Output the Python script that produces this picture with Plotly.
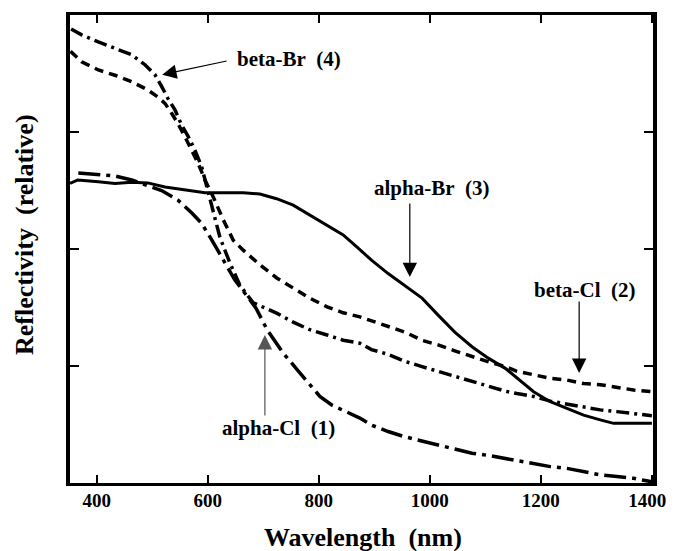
import plotly.graph_objects as go

# ---- data (wavelength in nm, reflectivity in relative units) ----
alpha_br_nm = [352, 366, 403, 433, 463, 492, 523, 553, 595, 634, 664, 694, 724, 754, 784, 814, 844, 868,
               895, 925, 955, 986, 1015, 1045, 1076, 1106, 1136, 1157, 1187, 1217, 1247, 1277, 1307, 1331,
               1367, 1400]
alpha_br = [2.56, 2.59, 2.575, 2.56, 2.57, 2.565, 2.53, 2.51, 2.48, 2.48, 2.48, 2.47, 2.43, 2.375, 2.29,
            2.205, 2.12, 2.02, 1.905, 1.79, 1.69, 1.58, 1.435, 1.29, 1.165, 1.065, 0.98, 0.895, 0.78,
            0.695, 0.64, 0.58, 0.54, 0.51, 0.51, 0.51]

alpha_cl_nm = [367, 402, 433, 463, 492, 517, 546, 571, 589, 607, 649, 687, 707, 736, 761, 784, 802, 824,
               851, 874, 895, 925, 955, 986, 1015, 1045, 1076, 1106, 1136, 1157, 1187, 1217, 1247, 1277,
               1307, 1337, 1367, 1400]
alpha_cl = [2.65, 2.64, 2.625, 2.59, 2.545, 2.5, 2.42, 2.31, 2.22, 2.08, 1.735, 1.495, 1.31, 1.11, 0.97,
            0.84, 0.74, 0.665, 0.605, 0.555, 0.495, 0.44, 0.395, 0.355, 0.325, 0.29, 0.255, 0.235, 0.21,
            0.195, 0.17, 0.14, 0.125, 0.095, 0.07, 0.055, 0.04, 0.01]

beta_br_nm = [354, 373, 403, 433, 463, 487, 505, 517, 528, 541, 553, 565, 577, 589, 599, 610, 622, 640,
              658, 682, 700, 725, 754, 784, 815, 844, 874, 895, 925, 955, 986, 1015, 1045, 1076, 1106,
              1136, 1157, 1187, 1217, 1247, 1277, 1307, 1337, 1367, 1400]
beta_br = [3.88, 3.83, 3.77, 3.715, 3.66, 3.575, 3.49, 3.39, 3.29, 3.19, 3.06, 2.96, 2.845, 2.705, 2.53,
           2.31, 2.10, 1.88, 1.69, 1.54, 1.50, 1.45, 1.375, 1.31, 1.265, 1.22, 1.195, 1.14, 1.10, 1.04,
           0.995, 0.955, 0.91, 0.865, 0.825, 0.785, 0.765, 0.74, 0.70, 0.675, 0.645, 0.625, 0.61, 0.595,
           0.575]

beta_cl_nm = [353, 373, 403, 433, 463, 492, 510, 523, 535, 546, 559, 571, 583, 595, 610, 628, 646, 664,
              694, 725, 754, 784, 815, 844, 874, 895, 925, 955, 986, 1015, 1045, 1076, 1106, 1136, 1157,
              1187, 1217, 1247, 1277, 1307, 1337, 1367, 1400]
beta_cl = [3.69, 3.60, 3.53, 3.485, 3.43, 3.36, 3.30, 3.245, 3.16, 3.075, 2.96, 2.845, 2.73, 2.59, 2.445,
           2.25, 2.075, 1.99, 1.865, 1.75, 1.665, 1.58, 1.505, 1.455, 1.42, 1.385, 1.335, 1.29, 1.22, 1.18,
           1.13, 1.08, 1.035, 0.995, 0.955, 0.925, 0.895, 0.88, 0.85, 0.84, 0.815, 0.795, 0.78]

x_ticks = [400, 600, 800, 1000, 1200, 1400]
x_tick_text = ["400", "600", "800", "1000", "1200", "1400\u00a0\u00a0"]
y_ticks = [1, 2, 3]

FONT = "Liberation Serif"

fig = go.Figure()
fig.add_trace(go.Scatter(x=alpha_br_nm, y=alpha_br, mode="lines", name="alpha-Br (3)",
                         line=dict(color="black", width=3)))
fig.add_trace(go.Scatter(x=beta_cl_nm, y=beta_cl, mode="lines", name="beta-Cl (2)",
                         line=dict(color="black", width=3.5, dash="9px,6px")))
fig.add_trace(go.Scatter(x=beta_br_nm, y=beta_br, mode="lines", name="beta-Br (4)",
                         line=dict(color="black", width=3.5, dash="13px,5px,3px,5px")))
fig.add_trace(go.Scatter(x=alpha_cl_nm, y=alpha_cl, mode="lines", name="alpha-Cl (1)",
                         line=dict(color="black", width=3.5, dash="22px,6px,4px,6px")))

lab_font = dict(family=FONT, size=21, color="black", weight="bold")
labels = [
    ("beta-Br\u00a0\u00a0(4)", 747, 3.62),
    ("alpha-Br\u00a0\u00a0(3)", 1004, 2.52),
    ("beta-Cl\u00a0\u00a0(2)", 1278, 1.65),
    ("alpha-Cl\u00a0\u00a0(1)", 727, 0.47),
]
for t, xx, yy in labels:
    fig.add_annotation(x=xx, y=yy, text=t, showarrow=False, font=lab_font, xref="x", yref="y")

arrows = [
    (518, 3.49, 66, -14, "black"),
    (964, 1.76, 0, -75, "black"),
    (1269, 0.94, 0, -73, "black"),
    (703, 1.265, 0, 82, "#555555"),
]
for xx, yy, axp, ayp, col in arrows:
    fig.add_annotation(x=xx, y=yy, ax=axp, ay=ayp, text="", showarrow=True, arrowhead=2,
                       arrowsize=2.4, arrowwidth=1.2, arrowcolor=col, xref="x", yref="y")

# axis titles
title_font = dict(family=FONT, size=26, color="black", weight="bold")
fig.add_annotation(text="Wavelength\u00a0\u00a0(nm)", xref="paper", yref="paper",
                   x=0.503, y=-0.1175, xanchor="center", yanchor="middle",
                   showarrow=False, font=title_font)
fig.add_annotation(text="Reflectivity\u00a0\u00a0(relative)", xref="paper", yref="paper",
                   x=-0.077, y=0.53, xanchor="center", yanchor="middle", textangle=-90,
                   showarrow=False, font=title_font)

# the page body has an 8px margin, so the figure is offset by 8px inside the window
fig.update_layout(
    width=667, height=543,
    margin=dict(l=62, r=22, t=7, b=68, autoexpand=False),
    paper_bgcolor="white", plot_bgcolor="white",
    showlegend=False,
    font=dict(family=FONT, color="black"),
)
fig.update_xaxes(range=[352, 1402], tickvals=x_ticks, ticktext=x_tick_text, ticks="inside",
                 ticklen=8, tickwidth=2, ticklabeloverflow="allow",
                 tickcolor="black", showline=True, linewidth=3, linecolor="black", mirror="ticks",
                 showgrid=False, zeroline=False, automargin=False, ticklabelstandoff=-2,
                 tickfont=dict(family=FONT, size=19, color="black", weight="bold"))
fig.update_yaxes(range=[0, 4], tickvals=y_ticks, ticks="inside", ticklen=9, tickwidth=2,
                 tickcolor="black", showline=True, linewidth=3.5, linecolor="black", mirror="ticks",
                 showgrid=False, zeroline=False, showticklabels=False, automargin=False)

fig.write_html("out.html")
